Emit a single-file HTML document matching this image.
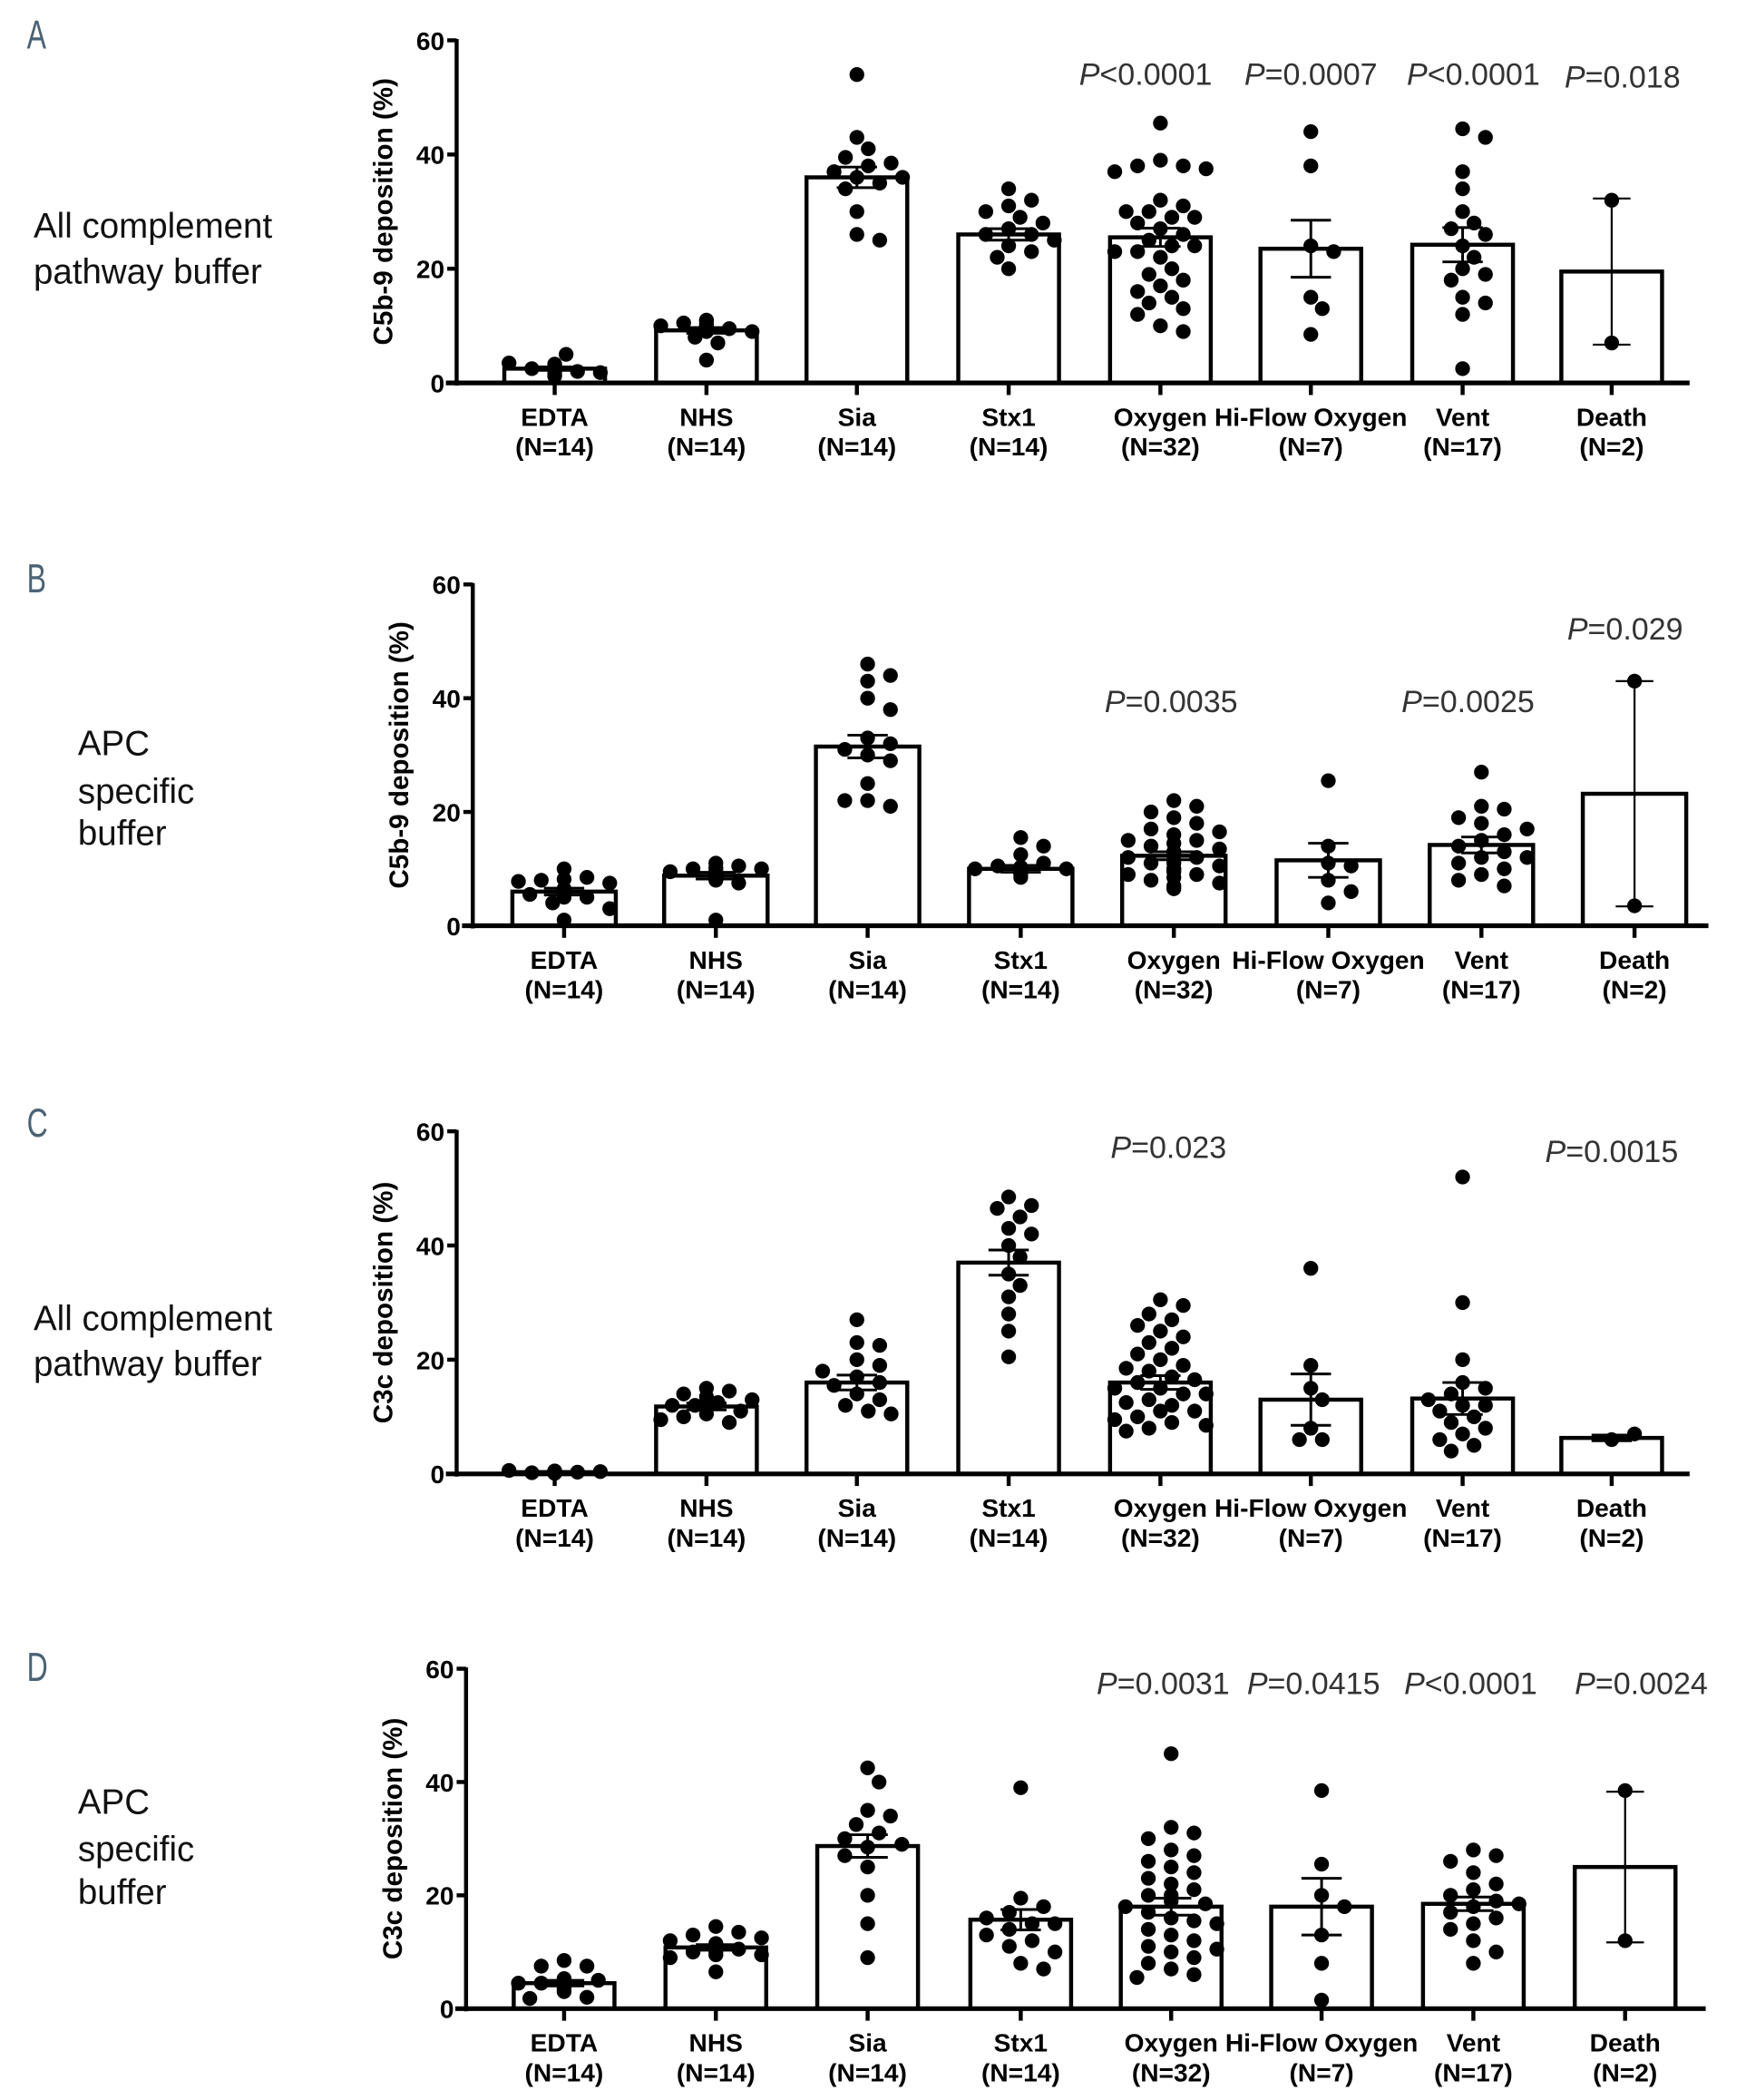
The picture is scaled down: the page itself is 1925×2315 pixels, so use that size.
<!DOCTYPE html>
<html><head><meta charset="utf-8"><style>
html,body{margin:0;padding:0;background:#fff}
svg{display:block}
.tick{font:bold 19px "Liberation Sans Narrow","Liberation Sans",sans-serif}
.cat{font:bold 19px "Liberation Sans Narrow","Liberation Sans",sans-serif}
.ytitle{font:bold 20px "Liberation Sans",sans-serif}
.pv{font:23px "Liberation Sans Narrow","Liberation Sans",sans-serif;fill:#333}
.side{font:26px "Liberation Sans",sans-serif;fill:#111}
.letter{font:30px "Liberation Sans",sans-serif;fill:#4a6275}
</style></head><body>
<svg id="fig" width="1925" height="2315" viewBox="0 0 1300 1563" preserveAspectRatio="none" xmlns="http://www.w3.org/2000/svg"></svg>
<script>
const categories = ["EDTA","NHS","Sia","Stx1","Oxygen","Hi-Flow Oxygen","Vent","Death"];
const groupN = ["N=14","N=14","N=14","N=14","N=32","N=7","N=17","N=2"];
const yTicks = [0,20,40,60];

const meansA = [2.5,9.2,36,26,25.5,23.5,24.2,19.5];
const semA = [0.3,0.5,1.8,1,1.6,5,3,12.8];
const pointsA = [
 [3,2,2.5,1.8,3.5,2,5,1.5,2.2,3,1.2,2.8,2.5,3.3],
 [10,9.5,10.5,9,8,10,4,9.8,10.2,10.8,11,9.3,7,9],
 [54,43,41,39.5,38,38.5,37,36,35,34,30,26,25,36],
 [34,31,32,30,29,27,26,26,24,23,22,20,28,25],
 [45.5,39,38,38,37.5,37,32,31,30,30,29,29,28,27,26,25,24,24,23,23,22,20,19,18,17,16,15,14,13,10,9,12],
 [44,38,24,23,15,13,8.5],
 [44.5,43,37,34,30,28,27,24,22,20,19,18,15,14,12,2.5,26],
 [32,7]];
const pvalsA = ["","","","","P<0.0001","P=0.0007","P<0.0001","P=0.018"];

const meansB = [6,8.8,31.5,10,12.3,11.5,14.2,23.2];
const semB = [0.6,0.6,2,0.6,0.7,3,1.4,19.8];
const pointsB = [
 [10,8.5,8,7.5,7.8,8.2,6.5,5,5.5,4,3,6,5,1],
 [11,10.5,10,10,9.5,9,9,8.5,8.2,8,7.5,1,10.2,9.8],
 [46,44,43,40,38,33,32,31,30,29,25,22,21,22],
 [15.5,14,12.5,11,10.5,10,10,9.8,9.5,9.2,9,8.5,10.3,9.7],
 [22,21,20,19,18,17,16.5,16,15,15,14.5,14,13.5,13,13,12.5,12,12,11.5,11,11,10.5,10,10,9.5,9,9,8.5,8,7.5,7,6.5],
 [25.5,14,11,10.5,8,6,4],
 [27,21,20.5,19,18,16,15,14,13,12,12,10,9,8,7,17,11],
 [43,3.5]];
const pvalsB = ["","","","","P=0.0035","","P=0.0025","P=0.029"];

const meansC = [0.3,11.8,16,37,16,13,13.2,6.3];
const semC = [0.1,0.6,1.3,2.2,1.2,4.5,2.8,0.5];
const pointsC = [
 [0.5,0.3,0.2,0.4,0.6,0.1,0.3,0.5,0.2,0.4,0.3,0.1,0.5,0.2],
 [15,14.5,14,13,12.5,12,12,11.5,11,10.5,10,9.5,9,13.5],
 [27,23,22.5,20,19,17,16,15.5,14,13,12,11,10.5,18],
 [48.5,47,46.5,45,43,42,40,38,35,33,31,28,25,20.5],
 [30.5,29.5,28,27,26,25,24,23,22,21,20,19,18.5,18,17,16.5,16,15,15,14,14,13,12.5,12,11,11,10,9.5,9,8.5,8,7.5],
 [36,19,15,13,8,6,6],
 [52,30,20,16,15,14,12,12,11,10,9,8,7,6,5,4,13],
 [6,7]];
const pvalsC = ["","","","","P=0.023","","","P=0.0015"];

const meansD = [4.5,10.8,28.7,15.7,18,18,18.5,25];
const semD = [0.5,0.5,2,1.8,1.5,5,1.2,13.3];
const pointsD = [
 [8.5,7.5,7.5,5,5,4.5,4.5,4,4,3.5,3,2,1.8,5.3],
 [14.5,13.5,13,12.5,12,11,10.5,10,10,9.5,9.5,9,6.5,11.5],
 [42.5,40,35,34,32.5,31,30,29,28.5,27,25,20,15,9],
 [39,19.5,18,17,16,15,15,14,13,12,11,10,8,7],
 [45,32,31,30,28,27,26,25,24,22,21,20,19,18.5,18,17,16,15.5,15,14,13,12,11,10.5,10,9,8,7,6,5.5,20,23],
 [38.5,25.5,20,18,13,8,1.5],
 [28,27,26,24,22,21,20,19,18.5,18,17,16,15,14,12,10,8],
 [38.5,12]];
const pvalsD = ["","","","","P=0.0031","P=0.0415","P<0.0001","P=0.0024"];

const NS = "http://www.w3.org/2000/svg";
const svg = document.getElementById("fig");
function mk(tag, attrs, parent, text){
  const e = document.createElementNS(NS, tag);
  for (const k in attrs) e.setAttribute(k, attrs[k]);
  if (text !== undefined) e.textContent = text;
  (parent || svg).appendChild(e);
  return e;
}

const panels = [
 {id:"a", letter:"A", letterY:25, side:["All complement","pathway buffer"], sideX:25, sideY:[168,202], ax:340, y0:285, y60:30, xEnd:1258, cx:[413,526,638,751,864,976,1089,1200], bw:75, title:"C5b-9 deposition (%)", means:meansA, sem:semA, pts:pointsA, pv:pvalsA, pvY:[0,0,0,0,55,55,55,57], pvX:[0,0,0,0,853,976,1097,1208]},
 {id:"b", letter:"B", letterY:430, side:["APC","specific","buffer"], sideX:58, sideY:[553,589,620], ax:352, y0:689, y60:435, xEnd:1272, cx:[420,533,646,760,874,989,1103,1217], bw:77, title:"C5b-9 deposition (%)", means:meansB, sem:semB, pts:pointsB, pv:pvalsB, pvY:[0,0,0,0,522,0,522,468], pvX:[0,0,0,0,872,0,1093,1210]},
 {id:"c", letter:"C", letterY:835, side:["All complement","pathway buffer"], sideX:25, sideY:[981,1015], ax:340, y0:1097, y60:842, xEnd:1258, cx:[413,526,638,751,864,976,1089,1200], bw:75, title:"C3c deposition (%)", means:meansC, sem:semC, pts:pointsC, pv:pvalsC, pvY:[0,0,0,0,854,0,0,857], pvX:[0,0,0,0,870,0,0,1200]},
 {id:"d", letter:"D", letterY:1240, side:["APC","specific","buffer"], sideX:58, sideY:[1341,1376,1408], ax:347, y0:1495, y60:1242, xEnd:1270, cx:[420,533,646,760,872,984,1097,1210], bw:75, title:"C3c deposition (%)", means:meansD, sem:semD, pts:pointsD, pv:pvalsD, pvY:[0,0,0,0,1253,1253,1253,1253], pvX:[0,0,0,0,866,978,1095,1222]}
];

panels.forEach(p => {
  const g = mk("g", {});
  
  
  const y = v => p.y0 - (v/60)*(p.y0 - p.y60);

  const lt = mk("text", {x:0, y:0, transform:`translate(20,${p.letterY+11}) scale(0.72,1)`, class:"letter"}, g, p.letter);
  
  

  p.side.forEach((s,i) => {
    const t = mk("text", {x:p.sideX, y:p.sideY[i]+9, class:"side"}, g, s);
    
    
  });

  p.means.forEach((m,i) => {
    const r = mk("rect", {x:p.cx[i]-p.bw/2, y:y(m), width:p.bw, height:p.y0-y(m), fill:"#fff", stroke:"#000", "stroke-width":3}, g);
    
    
  });

  const rad = 5.5;
  p.pts.forEach((arr,i) => {
    const placed = [];
    const half = p.bw/2 - 1;
    arr.forEach(v => {
      const py = y(v);
      let px = p.cx[i];
      const offs = [0];
      for (let k=1;k<10;k++){ offs.push(k*8.5, -k*8.5); }
      for (const o of offs){
        if (Math.abs(o) > half) continue;
        const cxp = p.cx[i] + o;
        if (placed.every(q => Math.hypot(q[0]-cxp, q[1]-py) >= 2*rad+1)) { px = cxp; break; }
      }
      placed.push([px,py]);
      const c = mk("circle", {cx:px, cy:py, r:rad, fill:"#000"}, g);
      
      
    });
  });

  p.means.forEach((m,i) => {
    const thin = i === 7 && p.sem[i] > 3;
    const sw = thin ? 1.5 : 2;
    const cw = thin ? 28 : 30;
    const eg = mk("g", {stroke:"#000", "stroke-width":sw}, g);
    
    
    const top = y(m + p.sem[i]), bot = y(Math.max(0, m - p.sem[i]));
    mk("line", {x1:p.cx[i], x2:p.cx[i], y1:top, y2:bot}, eg);
    mk("line", {x1:p.cx[i]-cw/2, x2:p.cx[i]+cw/2, y1:top, y2:top}, eg);
    mk("line", {x1:p.cx[i]-cw/2, x2:p.cx[i]+cw/2, y1:bot, y2:bot}, eg);
  });

  const ya = mk("line", {x1:p.ax, x2:p.ax, y1:p.y60-1, y2:p.y0+2, stroke:"#000", "stroke-width":3}, g);
  
  
  const xa = mk("line", {x1:p.ax-8, x2:p.xEnd, y1:p.y0, y2:p.y0, stroke:"#000", "stroke-width":3.5}, g);
  
  

  yTicks.forEach(t => {
    mk("line", {x1:p.ax-7, x2:p.ax, y1:y(t), y2:y(t), stroke:"#000", "stroke-width":3}, g);
    const tl = mk("text", {x:p.ax-9, y:y(t)+7, "text-anchor":"end", class:"tick"}, g, String(t));
    
    
  });

  const midY = (p.y0 + p.y60)/2;
  const yt = mk("text", {x:0, y:0, transform:`translate(${p.ax-48},${midY}) rotate(-90)`, "text-anchor":"middle", class:"ytitle"}, g, p.title);
  
  

  categories.forEach((c,i) => {
    mk("line", {x1:p.cx[i], x2:p.cx[i], y1:p.y0, y2:p.y0+9, stroke:"#000", "stroke-width":3}, g);
    const cl = mk("text", {x:p.cx[i], y:p.y0+32, "text-anchor":"middle", class:"cat"}, g, c);
    
    
    const nl = mk("text", {x:p.cx[i], y:p.y0+54, "text-anchor":"middle", class:"cat"}, g, "(" + groupN[i] + ")");
    
    
  });

  p.pv.forEach((s,i) => {
    if (!s) return;
    const t = mk("text", {x:p.pvX[i], y:p.pvY[i]+8, "text-anchor":"middle", class:"pv"}, g);
    
    
    mk("tspan", {"font-style":"italic"}, t, s.charAt(0));
    mk("tspan", {}, t, s.slice(1));
  });
});
</script>
</body></html>
